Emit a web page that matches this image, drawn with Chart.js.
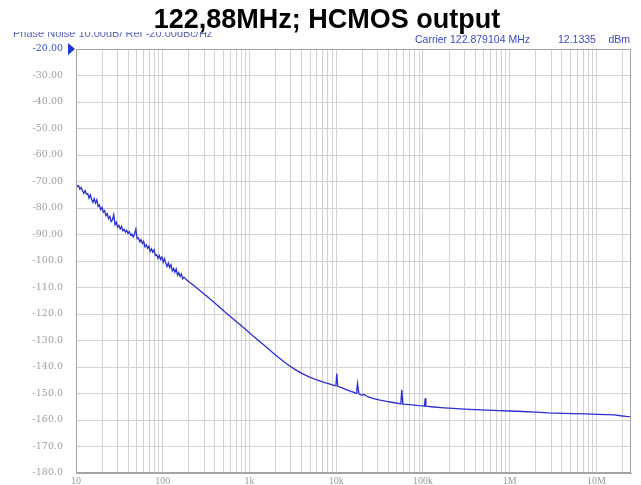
<!DOCTYPE html>
<html>
<head>
<meta charset="utf-8">
<script src="https://cdn.jsdelivr.net/npm/chart.js@4.4.1/dist/chart.umd.min.js"></script>
<style>
  body { margin: 0; background: #fff; }
  canvas { display: block; }
</style>
</head>
<body>
<canvas id="pnChart" width="641" height="485"></canvas>
<script>
// Chart texts
const chartTitle = "122,88MHz; HCMOS output";
const headerLeft = "Phase Noise 10.00dB/ Ref -20.00dBc/Hz";
const carrierText = "Carrier 122.879104 MHz";
const powerValue = "12.1335";
const powerUnit = "dBm";

// Offset frequency (Hz) and phase noise (dBc/Hz)
const freq = [
  10, 10.35, 10.72, 11.09, 11.48, 11.89, 12.3, 12.74, 13.18, 13.65, 14.13, 14.62, 15.14, 15.67,
  16.22, 16.79, 17.38, 17.99, 18.62, 19.28, 19.95, 20.65, 21.38, 22.13, 22.91, 23.71, 24.55,
  25.41, 26.3, 27.23, 28.18, 29.17, 30.2, 31.26, 32.36, 33.5, 34.67, 35.89, 37.15, 38.46, 39.81,
  41.21, 42.66, 44.16, 45.71, 47.32, 48.98, 50.7, 52.48, 54.33, 56.23, 58.21, 60.26, 62.37,
  64.57, 66.83, 69.18, 71.61, 74.13, 76.74, 79.43, 82.22, 85.11, 88.1, 91.2, 94.41, 97.72,
  101.2, 104.7, 108.4, 112.2, 116.1, 120.2, 124.5, 128.8, 133.4, 138, 142.9, 147.9, 153.1,
  158.5, 164.1, 169.8, 175.8,
  185, 200, 230, 270, 320, 380, 450, 530, 630, 750, 900, 1050, 1250, 1500, 1800, 2200, 2700,
  3300, 4000, 5000, 6000, 7200, 8500, 9600, 9900, 10150, 10400, 11500, 13000, 14500, 16000,
  16900, 17300, 17600, 17900, 18300, 19500, 21000, 23000, 27000, 32000, 38000, 45000, 52000,
  55500, 57000, 58500, 65000, 75000, 88000, 100000, 104000, 106000, 108000, 125000, 160000,
  220000, 300000, 400000, 550000, 750000, 1e6, 1.4e6, 2e6, 2.8e6, 4e6, 5.5e6, 7.5e6, 1e7,
  1.3e7, 1.6e7, 1.9e7, 2.2e7, 2.5e7
];
const phaseNoise = [
  -70.8, -71.9, -71.6, -72.9, -72.3, -73.4, -74.5, -73.4, -74.8, -74.6, -76.3, -75.0, -76.7, -77.9,
  -76.5, -78.2, -76.9, -79.4, -78.8, -80.6, -79.8, -81.6, -81.0, -82.9, -82.1, -84.0, -83.2,
  -85.1, -84.5, -82.5, -86.3, -85.4, -87.3, -86.6, -87.9, -86.9, -88.6, -88.1, -89.1, -88.4, -89.6,
  -88.9, -90.2, -89.8, -90.9, -89.9, -88.0, -91.6, -91.3, -92.8, -91.9, -93.4, -92.6, -94.6,
  -93.9, -95.2, -94.4, -96.4, -95.4, -96.7, -95.8, -97.9, -97.6, -99.0, -97.9, -99.4, -98.5,
  -100.5, -99.1, -100.8, -102.1, -100.8, -102.5, -101.4, -103.7, -102.8, -104.3, -103.0, -105.3, -104.4,
  -105.8, -104.9, -106.7, -106.1,
  -106.9, -107.8, -109.3, -111.2, -113.2, -115.3, -117.4, -119.4, -121.5, -123.6, -125.8, -127.7, -129.8, -132.0, -134.2, -136.6, -138.9,
  -140.8, -142.4, -143.9, -144.9, -145.8, -146.5, -147.0, -147.1, -142.5, -147.3, -147.8, -148.5, -149.1, -149.6,
  -149.9, -148.0, -146.2, -148.2, -150.1, -150.6, -150.4, -151.2, -151.9, -152.5, -153.0, -153.4, -153.7,
  -153.9, -148.6, -154.0, -154.1, -154.3, -154.6, -154.7, -154.8, -151.8, -154.8, -155.0, -155.3,
  -155.6, -155.9, -156.1, -156.3, -156.5, -156.6, -156.8, -157.0, -157.3, -157.5, -157.6, -157.7, -157.9,
  -158.0, -158.1, -158.4, -158.6, -158.7
];

// Axis ticks
const xTickValues = [10, 100, 1e3, 1e4, 1e5, 1e6, 1e7];
const xTickLabels = ["10", "100", "1k", "10k", "100k", "1M", "10M"];
const yTickValues = [-20, -30, -40, -50, -60, -70, -80, -90, -100, -110, -120, -130, -140, -150, -160, -170, -180];
const yTickLabels = ["-20.00", "-30.00", "-40.00", "-50.00", "-60.00", "-70.00", "-80.00", "-90.00",
  "-100.0", "-110.0", "-120.0", "-130.0", "-140.0", "-150.0", "-160.0", "-170.0", "-180.0"];

// log grid: 1..9 in every decade
const xGrid = [];
xTickValues.forEach(d => {
  for (let m = 1; m <= 9; m++) {
    if (d * m <= 2.5e7) xGrid.push(d * m);
  }
});

const decor = {
  id: "decor",
  afterDraw(chart) {
    const { ctx, chartArea: a, scales } = chart;
    ctx.save();

    // plot frame
    ctx.strokeStyle = "#a4a4a4";
    ctx.lineWidth = 1;
    ctx.strokeRect(Math.round(a.left) + 0.5, Math.round(a.top) + 0.5,
      Math.round(a.right - a.left) - 1, Math.round(a.bottom - a.top) - 1);

    // reference marker at top of y axis
    const y0 = scales.y.getPixelForValue(yTickValues[0]);
    ctx.fillStyle = "#1f33d6";
    ctx.beginPath();
    ctx.moveTo(a.left - 8, y0 - 6);
    ctx.lineTo(a.left - 1, y0);
    ctx.lineTo(a.left - 8, y0 + 6);
    ctx.closePath();
    ctx.fill();

    // header line on the left, its top half is hidden under the title
    ctx.save();
    ctx.beginPath();
    ctx.rect(0, 32, 260, 10);
    ctx.clip();
    ctx.fillStyle = "#5a64b8";
    ctx.font = "11px 'Liberation Sans'";
    ctx.textBaseline = "alphabetic";
    ctx.fillText(headerLeft, 13, 37);
    ctx.restore();

    // title
    ctx.fillStyle = "#000";
    ctx.font = "bold 27px 'Liberation Sans'";
    ctx.textAlign = "center";
    ctx.textBaseline = "alphabetic";
    ctx.fillText(chartTitle, 327, 28);

    // carrier info
    ctx.fillStyle = "#3a4ac4";
    ctx.font = "10.5px 'Liberation Sans'";
    ctx.textAlign = "left";
    ctx.fillText(carrierText, 415, 43);
    ctx.fillText(powerValue, 558, 43);
    ctx.textAlign = "right";
    ctx.fillText(powerUnit, 630, 43);
    ctx.restore();
  }
};

new Chart(document.getElementById("pnChart"), {
  type: "line",
  data: {
    datasets: [{
      data: freq.map((f, i) => ({ x: f, y: phaseNoise[i] })),
      borderColor: "#2b2fd2",
      borderWidth: 1.3,
      pointRadius: 0,
      tension: 0,
      fill: false
    }]
  },
  options: {
    responsive: false,
    animation: false,
    layout: { padding: { top: 49, right: 10, bottom: 0, left: 0 } },
    plugins: {
      legend: { display: false },
      title: { display: false },
      tooltip: { enabled: false }
    },
    scales: {
      x: {
        type: "logarithmic",
        min: 10,
        max: 2.5e7,
        afterBuildTicks: scale => { scale.ticks = xGrid.map(v => ({ value: v })); },
        afterFit: scale => {
          scale.height = 12;
          scale.paddingLeft = 0;
          scale.paddingRight = 0;
        },
        grid: { color: "#d2d2d2", drawTicks: false },
        border: { color: "#a4a4a4" },
        ticks: {
          autoSkip: false,
          maxRotation: 0,
          padding: 2,
          color: "#9a9a9a",
          font: { family: "'Liberation Serif'", size: 10 },
          callback: v => {
            const i = xTickValues.indexOf(v);
            return i >= 0 ? xTickLabels[i] : "";
          }
        }
      },
      y: {
        min: -180,
        max: -20,
        afterFit: scale => {
          scale.width = 76;
          scale.paddingTop = 0;
          scale.paddingBottom = 0;
        },
        grid: { color: "#d2d2d2", drawTicks: false },
        border: { color: "#a4a4a4" },
        ticks: {
          stepSize: 10,
          padding: 13,
          color: ctx => ctx.tick.value === -20 ? "#3a4ac4" : "#a0a0a0",
          font: { family: "'DejaVu Serif'", size: 9.5 },
          callback: v => yTickLabels[yTickValues.indexOf(v)]
        }
      }
    }
  },
  plugins: [decor]
});
</script>
</body>
</html>
